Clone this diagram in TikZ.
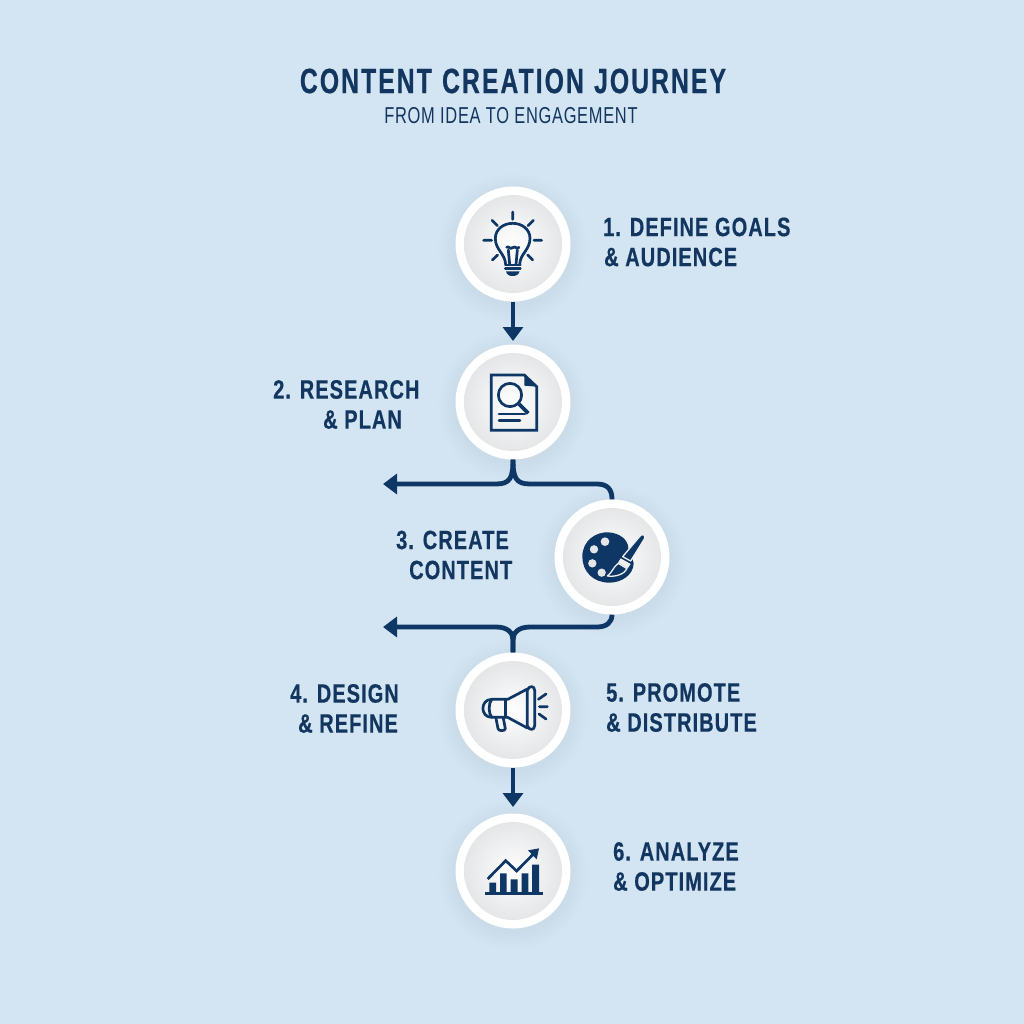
\documentclass[tikz,border=0pt]{standalone}
\usepackage{fontspec}
\usetikzlibrary{arrows.meta,calc}
\setmainfont{Liberation Sans}
\newfontfamily\labelfont[FakeStretch=0.755,LetterSpace=4,WordSpace=1.0,FakeBold=0.5]{Liberation Sans}
\newfontfamily\titlefont[FakeStretch=0.705,LetterSpace=6,WordSpace=1.15,FakeBold=0.6]{Liberation Sans}
\newfontfamily\subfont[FakeStretch=0.715,LetterSpace=3]{Liberation Sans}
\definecolor{bgblue}{HTML}{D3E5F3}
\definecolor{navy}{HTML}{0E3766}
\definecolor{inkblue}{HTML}{12365F}
\definecolor{discedge}{HTML}{E5E6E8}
\definecolor{brushline}{HTML}{EDEEF0}
\tikzset{
  ring/.style={circle,fill=white,minimum size=115pt,inner sep=0pt},
  disc/.style={circle,inner color=white!96!discedge,outer color=discedge,minimum size=98pt,inner sep=0pt},
  conn/.style={draw=navy,line width=4.8pt},
  headed/.style={conn,-{Triangle[length=14pt,width=20pt]}},
  steplabel/.style={text=inkblue,font=\labelfont\bfseries\fontsize{26.5}{30}\selectfont,inner sep=0pt,align=left,anchor=west},
  icon/.style={draw=navy,line width=2.7pt,line cap=round,line join=round},
}
\newcommand{\softshadow}[2]{%
  \foreach \r in {59,61,...,75}{\fill[navy,opacity=0.005] (#1,#2+4) circle[radius=\r pt];}}
\begin{document}
\begin{tikzpicture}[x=1pt,y=-1pt]
\useasboundingbox (0,0) rectangle (1024,1024);
\fill[bgblue] (0,0) rectangle (1024,1024);
% shadows
\softshadow{513}{244}\softshadow{513}{402}\softshadow{612}{557}\softshadow{513}{710}\softshadow{513}{871}
% badges
\node[ring] (c1) at (513,244) {};
\node[ring] (c2) at (513,402) {};
\node[ring] (c3) at (612,557) {};
\node[ring] (c4) at (513,710) {};
\node[ring] (c5) at (513,871) {};
\node[disc] (d1) at (c1) {};
\node[disc] (d2) at (c2) {};
\node[disc] (d3) at (c3) {};
\node[disc] (d4) at (c4) {};
\node[disc] (d5) at (c5) {};
% connector ends
\coordinate (t12) at (513,341);
\coordinate (t2) at (383,484);
\coordinate (t3) at (383,627);
\coordinate (t45) at (513,807);
% connectors
\draw[headed] (c1.south) -- (t12);
\draw[headed] (c2.south) .. controls (513,478) and (510,484) .. (496,484) -- (t2);
\draw[conn] (c2.south) .. controls (513,478) and (516,484) .. (530,484) -- (597,484)
  .. controls (607,484) and (612,489) .. (612,499) -- (c3.north);
\draw[conn] (c3.south) .. controls (612,622) and (607,627) .. (597,627) -- (530,627)
  .. controls (518,627) and (513,633) .. (513,640) -- (c4.north);
\draw[headed] (c4.north) -- (513,640) .. controls (513,633) and (508,627) .. (496,627) -- (t3);
\draw[headed] (c4.south) -- (t45);
% title
\node[text=inkblue,font=\titlefont\bfseries\fontsize{35}{38}\selectfont,inner sep=0pt] (title) at (513,81) {CONTENT CREATION JOURNEY};
\node[text=inkblue,font=\subfont\fontsize{23}{26}\selectfont,inner sep=0pt] (subtitle) at (511,116) {FROM IDEA TO ENGAGEMENT};
% labels
\node[steplabel] (l1) at (603,242) {1. DEFINE GOALS\\\hspace*{1pt}\& AUDIENCE};
\node[steplabel] (l2) at (273,404.5) {2. RESEARCH\\\hspace*{50pt}\& PLAN};
\node[steplabel] (l3) at (396,555) {3. CREATE\\\hspace*{13pt}CONTENT};
\node[steplabel] (l4) at (290,708.5) {4. DESIGN\\\hspace*{8pt}\& REFINE};
\node[steplabel] (l5) at (606,707.5) {5. PROMOTE\\\& DISTRIBUTE};
\node[steplabel] (l6) at (613,866.5) {6. ANALYZE\\\& OPTIMIZE};
% bulb icon
\begin{scope}[shift={(440,170)},x=.33333pt,y=-.33333pt]
\draw[icon] (197,283) .. controls (195,250) and (166,240) .. (166,205)
  .. controls (166,178) and (190,160) .. (218,160)
  .. controls (246,160) and (270,178) .. (270,205)
  .. controls (270,240) and (241,250) .. (239,283);
\draw[icon] (209,283) -- (205,240) (228,283) -- (232,240);
\draw[icon] (200,232) .. controls (206,226) and (210,240) .. (218,233) .. controls (226,226) and (230,240) .. (237,232);
\draw[icon] (196,285) -- (241,285) (196,296) -- (241,296);
\fill[navy] (198,304) -- (239,304) .. controls (236,314) and (228,318) .. (218,318) .. controls (208,318) and (200,314) .. (198,304) -- cycle;
\draw[icon] (218,126) -- (218,148) (131,211) -- (155,211) (282,211) -- (305,211)
  (156,151) -- (172,167) (280,151) -- (264,167) (157,270) -- (173,255) (278,270) -- (263,255);
\end{scope}
% document icon
\begin{scope}[shift={(370,340)},x=.33333pt,y=-.33333pt]
\draw[icon,line join=miter] (463,105) -- (364,105) -- (364,271) -- (500,271) -- (500,140) -- cycle;
\fill[navy] (463,105) -- (500,140) -- (463,137) -- cycle;
\draw[icon] (420,165) circle[radius=35];
\draw[icon,line width=3.6pt,line cap=butt] (447,192) -- (475,220);
\draw[icon] (387,222) -- (465,222) (387,242) -- (450,242);
\end{scope}
% palette icon
\begin{scope}[shift={(370,340)},x=.33333pt,y=-.33333pt]
\fill[navy] (637,650) .. controls (637,600) and (680,575) .. (715,577)
  .. controls (750,579) and (775,600) .. (775,625)
  .. controls (775,645) and (790,655) .. (791,670)
  .. controls (790,705) and (755,728) .. (718,728)
  .. controls (670,728) and (637,695) .. (637,650) -- cycle;
\fill[discedge] (705,605) circle[radius=13] (672,628) circle[radius=12.5]
  (667,670) circle[radius=12.5] (695,698) circle[radius=12.5];
\fill[navy,draw=brushline,line width=1.3pt,line join=round] (812,586) .. controls (820,580) and (828,588) .. (823,597) -- (782,663) -- (758,650) -- cycle;
\fill[brushline] (752,655) -- (782,672) -- (773,685) -- (744,668) -- cycle;
\fill[navy,draw=brushline,line width=1.3pt,line join=round] (745,670) -- (771,686) .. controls (765,700) and (740,712) .. (712,708) .. controls (725,700) and (730,680) .. (745,670) -- cycle;
\end{scope}
% megaphone icon
\begin{scope}[shift={(440,640)},x=.33333pt,y=-.33333pt]
\draw[icon] (262,151) .. controls (266,136) and (284,136) .. (284,151) -- (284,257) .. controls (284,272) and (266,272) .. (262,257) -- cycle;
\draw[icon] (262,147) -- (203,178) -- (155,178) .. controls (120,178) and (120,232) .. (155,232) -- (203,232) -- (262,264);
\draw[icon] (197,178) -- (197,232);
\draw[icon] (155,178) .. controls (145,190) and (145,220) .. (155,232);
\draw[icon] (168,235) -- (174,266) .. controls (176,274) and (195,274) .. (196,266) -- (190,235);
\draw[icon] (295,178) -- (318,162) (298,200) -- (322,200) (297,222) -- (318,237);
\end{scope}
% chart icon
\begin{scope}[shift={(440,790)},x=.33333pt,y=-.33333pt]
\fill[navy] (148,278) rectangle (168,308) (180,250) rectangle (200,308) (212,268) rectangle (233,308)
  (245,250) rectangle (265,308) (276,224) rectangle (297,308);
\draw[icon,line cap=butt] (135,310) -- (308,310);
\draw[icon,line cap=butt,line join=miter] (143,267) -- (197,212) -- (230,243) -- (282,190);
\fill[navy] (297,175) -- (290,208) -- (264,181) -- cycle;
\end{scope}
\end{tikzpicture}
\end{document}
